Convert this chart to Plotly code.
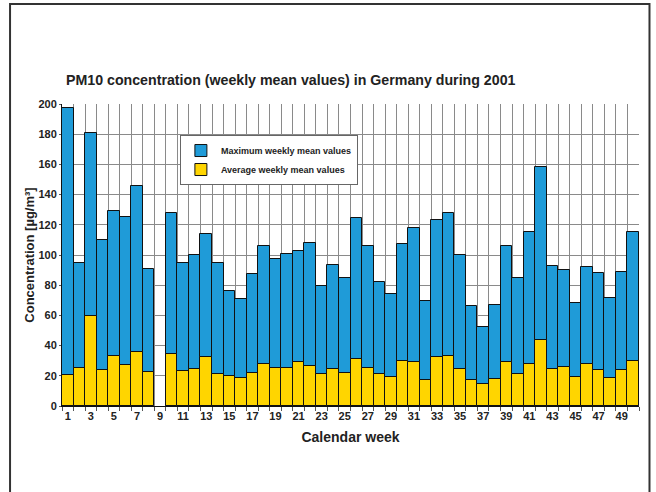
import plotly.graph_objects as go

weeks = list(range(1, 51))
max_vals = [197.5, 95, 181, 110, 129, 125.5, 146, 91, None, 128,
            95, 100, 114, 95, 76, 71, 87.5, 106, 97.3, 100.7,
            102.7, 108, 79.6, 93.3, 85, 124.7, 105.8, 82, 74, 107.3,
            118, 69.6, 123, 127.8, 100.2, 66.4, 52.4, 66.7, 105.8, 85.1,
            115, 158.4, 92.4, 90.4, 68.4, 92.2, 87.8, 71.3, 88.7, 115.3]
avg_vals = [20.4, 25.5, 59.6, 24, 33, 27, 35.8, 22.2, None, 34.7,
            23.1, 24.6, 32.5, 21.3, 19.8, 18.7, 22, 27.7, 25.1, 25.1,
            29, 26.6, 21.1, 24.6, 22, 31, 25.1, 21.5, 18.9, 29.9,
            29, 17.1, 32.5, 33.4, 24.8, 16.9, 14.9, 18.2, 29, 21.5,
            28.1, 43.7, 24.6, 25.9, 18.9, 28.1, 23.7, 18.7, 23.7, 29.7]
tick_weeks = list(range(1, 50, 2))

FONT = "Liberation Sans, Arial, sans-serif"
BLUE = "#1f9bd8"
YELLOW = "#ffd500"

fig = go.Figure()
fig.add_trace(go.Bar(x=weeks, y=max_vals, name="<b>Maximum weekly mean values</b>",
                     marker=dict(color=BLUE, line=dict(color="#111", width=1))))
fig.add_trace(go.Bar(x=weeks, y=avg_vals, name="<b>Average weekly mean values</b>",
                     marker=dict(color=YELLOW, line=dict(color="#111", width=1))))

L, R, T, B = 62, 16.5, 104, 86.3
W, H = 656, 492
pw, ph = W - L - R, H - T - B

fig.update_layout(
    width=W, height=H,
    margin=dict(l=L, r=R, t=T, b=B, pad=0),
    barmode="overlay", bargap=0,
    plot_bgcolor="white", paper_bgcolor="white",
    font=dict(family=FONT, color="#222"),
    title=dict(text="<b>PM10 concentration (weekly mean values) in Germany during 2001</b>",
               x=(66 - L) / pw, xref="paper", xanchor="left",
               y=1 - 80 / H, yref="container", yanchor="middle",
               font=dict(size=14.2, family=FONT, color="#222")),
    legend=dict(x=(180 - L) / pw, y=(H - B - 135) / ph, xanchor="left", yanchor="top",
                bgcolor="white", bordercolor="#666", borderwidth=1,
                font=dict(size=9, family=FONT, color="#222"),
                tracegroupgap=0, itemwidth=30),
    xaxis=dict(range=[0.5, 50.5], tickmode="array", tickvals=tick_weeks,
               ticktext=[f"<b>{w}</b>" for w in tick_weeks],
               showgrid=False, ticks="", tickfont=dict(size=11, family=FONT, color="#222"),
               showline=True, linecolor="#111", linewidth=1,
               minor=dict(tick0=0.5, dtick=1, showgrid=True, gridcolor="#8a8a8a", gridwidth=1,
                          ticks="outside", ticklen=4, tickcolor="#555"),
               title=dict(text="<b>Calendar week</b>", font=dict(size=14, family=FONT, color="#222"),
                          standoff=10)),
    yaxis=dict(range=[0, 200], dtick=20, tickformat="d",
               showgrid=True, gridcolor="#8a8a8a", gridwidth=1,
               ticks="outside", ticklen=2, tickcolor="#555",
               tickfont=dict(size=11, family=FONT, color="#222"),
               showline=True, linecolor="#111", linewidth=1, zeroline=False,
               title=dict(text="<b>Concentration [µg/m³]</b>", font=dict(size=13, family=FONT, color="#222"),
                          standoff=0)),
)
fig.update_yaxes(tickprefix="<b>", ticksuffix="</b>")

# outer page frame
fig.add_shape(type="rect", xref="paper", yref="paper",
              x0=(10 - L) / pw, x1=(650 - L) / pw,
              y0=(H - B - 500) / ph, y1=(H - B - 4) / ph,
              line=dict(color="#333", width=2), fillcolor="rgba(0,0,0,0)", layer="above")

fig.write_html("out.html", config={"displayModeBar": False},
               post_script="document.body.style.margin='0';")
